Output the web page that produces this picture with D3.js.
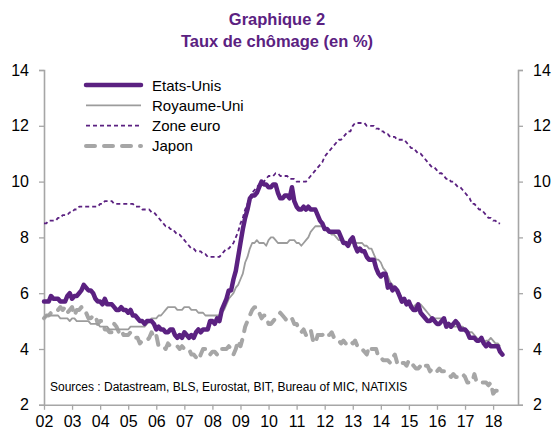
<!DOCTYPE html>
<html>
<head>
<meta charset="utf-8">
<script src="https://cdn.jsdelivr.net/npm/d3@7"></script>
<style>
  html, body { margin: 0; padding: 0; background: #fff; }
  svg { display: block; font-family: "Liberation Sans", Arial, sans-serif; }
</style>
</head>
<body>
<svg id="chart" width="553" height="432"></svg>
<script>
// ---- DATA (monthly, starting January 2002) ----
const startYear = 2002;
const yearLabels = ["02","03","04","05","06","07","08","09","10","11","12","13","14","15","16","17","18"];
const yTicks = [2, 4, 6, 8, 10, 12, 14];

const usRates = [
  5.7,5.7,5.7,5.9,5.8,5.8,5.8,5.7,5.7,5.7,5.9,6.0,
  5.8,5.9,5.9,6.0,6.1,6.3,6.2,6.1,6.1,6.0,5.8,5.7,
  5.7,5.6,5.8,5.6,5.6,5.6,5.5,5.4,5.4,5.5,5.4,5.4,
  5.3,5.4,5.2,5.2,5.1,5.0,5.0,4.9,5.0,5.0,5.0,4.9,
  4.7,4.8,4.7,4.7,4.6,4.6,4.7,4.7,4.5,4.4,4.5,4.4,
  4.6,4.5,4.4,4.5,4.4,4.6,4.7,4.6,4.7,4.7,4.7,5.0,
  5.0,4.9,5.1,5.0,5.4,5.6,5.8,6.1,6.1,6.5,6.8,7.3,
  7.8,8.3,8.7,9.0,9.4,9.5,9.5,9.6,9.8,10.0,9.9,9.9,
  9.8,9.8,9.9,9.9,9.6,9.4,9.4,9.5,9.5,9.4,9.8,9.3,
  9.1,9.0,9.0,9.1,9.0,9.1,9.0,9.0,9.0,8.8,8.6,8.5,
  8.3,8.3,8.2,8.2,8.2,8.2,8.2,8.0,7.8,7.8,7.7,7.9,
  8.0,7.7,7.5,7.6,7.5,7.5,7.3,7.2,7.2,7.2,6.9,6.7,
  6.6,6.7,6.7,6.2,6.3,6.1,6.2,6.1,5.9,5.7,5.8,5.6,
  5.7,5.5,5.4,5.4,5.6,5.3,5.2,5.1,5.0,5.0,5.1,5.0,
  4.9,4.9,5.0,5.1,4.8,4.9,4.8,4.9,5.0,4.9,4.7,4.7,
  4.7,4.6,4.4,4.4,4.4,4.3,4.3,4.4,4.2,4.1,4.2,4.1,
  4.1,4.1,4.1,3.9,3.8
];

const ukRates = [
  5.1,5.2,5.2,5.2,5.2,5.2,5.2,5.1,5.1,5.1,5.1,5.0,
  5.1,5.1,5.0,5.0,5.0,5.0,5.0,5.0,4.9,4.9,4.9,4.9,
  4.8,4.8,4.8,4.8,4.7,4.7,4.7,4.7,4.7,4.7,4.7,4.7,
  4.7,4.8,4.8,4.8,4.8,4.8,4.8,4.8,4.9,5.0,5.1,5.1,
  5.1,5.2,5.2,5.3,5.4,5.5,5.5,5.5,5.5,5.4,5.4,5.4,
  5.5,5.5,5.5,5.4,5.4,5.4,5.3,5.3,5.3,5.2,5.2,5.2,
  5.2,5.2,5.2,5.2,5.3,5.4,5.6,5.8,5.9,6.0,6.2,6.3,
  6.5,6.7,7.1,7.3,7.6,7.8,7.8,7.9,7.8,7.8,7.8,7.7,
  7.9,8.0,8.0,7.9,7.8,7.8,7.8,7.8,7.8,7.9,7.9,7.9,
  7.8,7.8,7.7,7.8,7.9,8.0,8.2,8.3,8.4,8.4,8.4,8.4,
  8.3,8.3,8.2,8.1,8.1,8.0,7.9,7.9,7.8,7.8,7.8,7.8,
  7.8,7.8,7.8,7.8,7.8,7.7,7.7,7.6,7.6,7.4,7.2,7.2,
  7.1,6.9,6.8,6.6,6.4,6.3,6.2,6.0,6.0,5.8,5.8,5.7,
  5.7,5.6,5.5,5.6,5.6,5.6,5.5,5.4,5.3,5.2,5.1,5.1,
  5.1,5.1,5.1,5.0,4.9,4.9,4.9,4.8,4.8,4.8,4.8,4.8,
  4.7,4.6,4.6,4.6,4.5,4.4,4.3,4.3,4.2,4.3,4.3,4.4,
  4.3,4.2,4.2,4.1
];

const ezRates = [
  8.5,8.5,8.6,8.6,8.6,8.6,8.7,8.7,8.8,8.8,8.8,8.9,
  8.9,9.0,9.0,9.1,9.1,9.1,9.1,9.1,9.1,9.1,9.1,9.1,
  9.2,9.2,9.3,9.3,9.3,9.3,9.2,9.2,9.2,9.2,9.2,9.2,
  9.2,9.2,9.2,9.1,9.1,9.1,9.0,9.0,9.0,9.0,8.9,8.9,
  8.8,8.7,8.6,8.5,8.4,8.4,8.3,8.3,8.2,8.1,8.1,8.0,
  7.9,7.8,7.7,7.6,7.6,7.5,7.5,7.5,7.4,7.4,7.3,7.3,
  7.3,7.3,7.3,7.3,7.4,7.5,7.6,7.6,7.7,7.8,8.0,8.2,
  8.5,8.7,9.0,9.2,9.4,9.6,9.7,9.8,9.9,10.0,10.0,10.1,
  10.2,10.2,10.2,10.3,10.3,10.2,10.2,10.2,10.2,10.1,10.1,10.1,
  10.0,10.0,10.0,10.0,10.0,10.1,10.2,10.3,10.4,10.5,10.6,10.7,
  10.9,11.0,11.1,11.2,11.3,11.4,11.5,11.5,11.6,11.7,11.8,11.8,
  12.0,12.1,12.1,12.1,12.1,12.1,12.0,12.0,12.0,12.0,11.9,11.9,
  11.8,11.8,11.7,11.7,11.6,11.6,11.6,11.5,11.5,11.5,11.5,11.4,
  11.3,11.2,11.2,11.1,11.0,11.0,10.9,10.8,10.7,10.6,10.5,10.5,
  10.4,10.3,10.3,10.2,10.1,10.1,10.0,10.0,9.9,9.8,9.8,9.7,
  9.6,9.5,9.4,9.2,9.2,9.1,9.0,9.0,8.9,8.8,8.7,8.7,
  8.6,8.6,8.5,8.5
];

const jpRates = [
  5.1,5.2,5.2,5.3,5.4,5.4,5.4,5.5,5.4,5.5,5.3,5.4,
  5.5,5.2,5.4,5.4,5.5,5.3,5.3,5.1,5.1,5.2,5.2,4.9,
  5.0,5.0,4.7,4.7,4.6,4.6,4.9,4.8,4.6,4.7,4.5,4.5,
  4.5,4.6,4.5,4.4,4.4,4.2,4.3,4.3,4.3,4.4,4.6,4.4,
  4.5,4.1,4.1,4.1,4.0,4.2,4.1,4.1,4.1,4.1,4.0,4.1,
  4.0,4.0,4.0,3.8,3.8,3.7,3.6,3.8,4.0,4.0,3.8,3.8,
  3.9,3.9,3.8,4.0,4.0,4.0,4.0,4.1,4.0,3.8,4.0,4.3,
  4.1,4.4,4.8,5.0,5.2,5.4,5.5,5.5,5.3,5.1,5.2,5.2,
  4.9,4.9,5.0,5.1,5.2,5.3,5.2,5.1,5.0,5.1,5.1,4.9,
  4.9,4.7,4.6,4.7,4.5,4.6,4.7,4.3,4.2,4.5,4.5,4.5,
  4.6,4.5,4.5,4.6,4.4,4.3,4.3,4.2,4.3,4.2,4.2,4.3,
  4.2,4.3,4.1,4.1,4.0,3.9,3.8,4.1,4.0,4.0,4.0,3.7,
  3.7,3.6,3.6,3.6,3.5,3.7,3.8,3.5,3.6,3.5,3.5,3.4,
  3.6,3.5,3.4,3.3,3.3,3.4,3.3,3.4,3.4,3.2,3.3,3.3,
  3.2,3.3,3.2,3.2,3.2,3.1,3.0,3.1,3.0,3.0,3.1,3.1,
  3.0,2.8,2.8,2.8,3.1,2.8,2.8,2.8,2.8,2.8,2.7,2.8,
  2.4,2.5,2.5,2.5
];

const seriesNames = ["Etats-Unis", "Royaume-Uni", "Zone euro", "Japon"];

// ---- CHART ----
const purple = "#5B2181";
const axisGrey = "#A6A6A6";
const svg = d3.select("#chart");

const x = d3.scaleLinear().domain([2002, 2018.887]).range([44, 518]);
const y = d3.scaleLinear().domain([2, 14]).range([404.8, 70]);

// title
svg.append("text").attr("x", 277).attr("y", 25).attr("text-anchor", "middle")
  .attr("font-size", 16.5).attr("font-weight", "bold").attr("fill", purple).text("Graphique 2");
svg.append("text").attr("x", 277).attr("y", 47).attr("text-anchor", "middle")
  .attr("font-size", 16.5).attr("font-weight", "bold").attr("fill", purple).text("Taux de chômage (en %)");

// axes
const styleAxis = g => {
  g.selectAll(".domain").attr("stroke", axisGrey).attr("stroke-width", 1.6);
  g.selectAll(".tick line").attr("stroke", axisGrey).attr("stroke-width", 1.3);
  g.selectAll(".tick text").attr("fill", "#000").attr("font-size", 16)
    .attr("font-family", "'Liberation Sans', Arial, sans-serif");
};

svg.append("g").attr("transform", "translate(44,0)")
  .call(d3.axisLeft(y).tickValues(yTicks).tickSize(5).tickSizeOuter(5).tickPadding(10).tickFormat(d3.format("d")))
  .call(styleAxis);
svg.append("g").attr("transform", "translate(518,0)")
  .call(d3.axisRight(y).tickValues(yTicks).tickSize(5).tickSizeOuter(5).tickPadding(10).tickFormat(d3.format("d")))
  .call(styleAxis);
svg.append("g").attr("transform", "translate(0,404.8)")
  .call(d3.axisBottom(x).tickValues(d3.range(2002, 2019)).tickSize(5).tickSizeOuter(0).tickPadding(6)
    .tickFormat((d, i) => yearLabels[i]))
  .call(styleAxis);

// lines
const lineGen = d3.line().x((d, i) => x(startYear + i / 12)).y(d => y(d)).curve(d3.curveLinear);

const series = [
  { name: seriesNames[3], data: jpRates, color: "#A6A6A6", width: 4, dash: "9,9", cap: "round" },
  { name: seriesNames[1], data: ukRates, color: "#9C9C9C", width: 1.8, dash: null, cap: "butt" },
  { name: seriesNames[2], data: ezRates, color: purple, width: 1.8, dash: "4,3", cap: "butt" },
  { name: seriesNames[0], data: usRates, color: purple, width: 4.5, dash: null, cap: "round" }
];

series.forEach(s => {
  svg.append("path").datum(s.data)
    .attr("d", lineGen)
    .attr("fill", "none")
    .attr("stroke", s.color)
    .attr("stroke-width", s.width)
    .attr("stroke-linejoin", "round")
    .attr("stroke-linecap", s.cap)
    .attr("stroke-dasharray", s.dash);
});

// legend
const legendOrder = [series[3], series[1], series[2], series[0]];
const legend = svg.append("g");
legendOrder.forEach((s, i) => {
  const ly = 85 + i * 20.3;
  legend.append("line").attr("x1", 86).attr("x2", 141).attr("y1", ly).attr("y2", ly)
    .attr("stroke", s.color).attr("stroke-width", s.width)
    .attr("stroke-linecap", s.cap).attr("stroke-dasharray", s.dash);
  legend.append("text").attr("x", 152).attr("y", ly + 5.5).attr("font-size", 15)
    .attr("fill", "#000").text(s.name);
});

// sources
svg.append("text").attr("x", 50).attr("y", 391).attr("font-size", 12).attr("fill", "#000")
  .text("Sources : Datastream, BLS, Eurostat, BIT, Bureau of MIC, NATIXIS");
</script>
</body>
</html>
